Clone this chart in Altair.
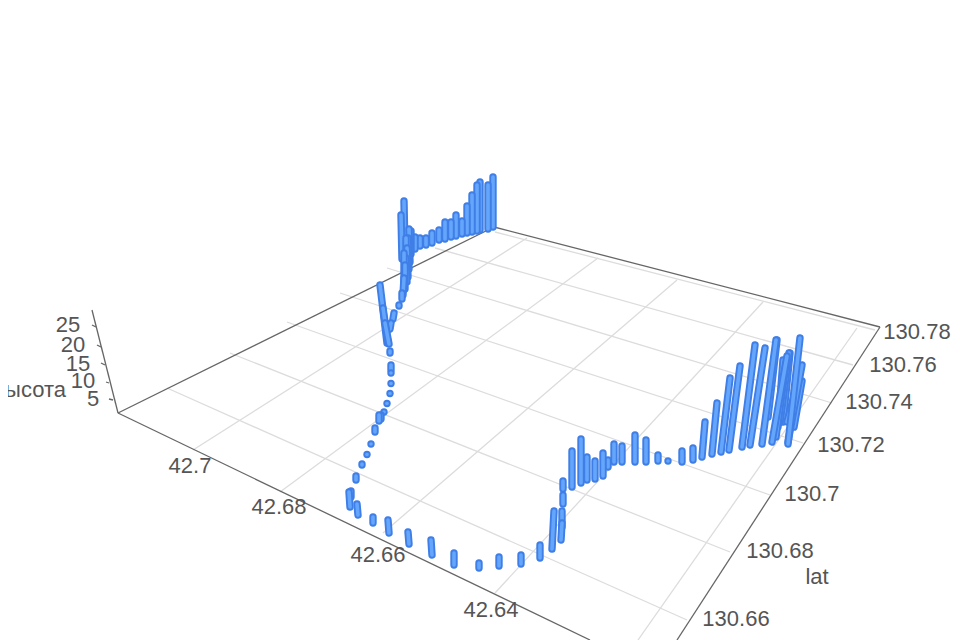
import altair as alt
import pandas as pd

bar_base_x = [493,488,480,477,472,467,462,456,451,445,439,432,426,420,415,411,405,402,
              410,409,408,407,405,403,402,399,393,390,387,388,389,390,391,391,391,390,387,384,379,381,
              375,371,367,362,356,351,350,358,373,389,409,432,454,479,499,521,540,552,561,562,563,563,
              572,581,587,595,603,608,614,622,635,646,658,668,682,693,702,712,721,729,742,750,762,772,
              788,788,783,787,768,778,780,794,776,404,406]
bar_base_y = [230,232,233,234,235,236,237,239,240,242,243,246,248,249,252,257,260,262,
              265,272,280,285,292,298,302,309,322,332,346,346,347,356,373,376,384,394,405,414,424,422,
              435,446,457,468,483,500,510,518,526,536,547,558,568,571,569,567,561,552,543,530,507,492,
              490,486,483,482,479,470,465,465,465,465,464,464,465,463,460,457,455,453,450,448,447,445,
              447,445,425,425,420,430,425,430,440,285,275]
bar_top_x = [493,488,480,477,472,467,462,456,451,445,439,432,426,420,415,411,404,401,
             409,408,407,406,405,404,402,399,394,391,380,383,385,390,391,391,391,390,387,384,379,381,
             375,371,367,362,356,351,349,357,373,388,408,431,454,479,499,521,540,554,562,562,563,563,
             572,581,587,595,603,608,614,622,635,646,658,668,682,693,705,717,730,740,755,765,776,787,
             800,802,790,798,777,783,789,802,786,404,406]
bar_top_y = [174,182,179,182,192,203,218,212,219,219,227,230,235,235,234,228,198,212,
             226,235,245,255,262,275,290,302,310,320,282,305,320,348,362,370,383,393,402,410,412,412,
             425,442,452,461,473,488,489,501,514,517,529,537,550,560,554,552,542,508,520,508,492,478,
             448,436,454,458,450,457,441,443,432,437,452,458,448,445,419,400,375,363,342,345,337,353,
             335,362,350,378,337,357,350,378,360,250,235]

lat_labels = ["130.66","130.68","130.7","130.72","130.74","130.76","130.78"]
lat_left_x = [167,230,287,340,387,435,495]
lat_left_y = [388,353,322,293,268,248,232]
lat_right_x = [687,730,770,803,832,853,875]
lat_right_y = [620,552,495,443,403,365,330]
lat_label_x = [736,780,812,851,879,903,917]
lat_label_y = [619,551,494,445,402,365,332]

lon_labels = ["42.7","42.68","42.66","42.64"]
lon_front_x = [193,280,383,495,638]
lon_front_y = [450,492,533,593,640]
lon_back_x = [527,598,677,763,857]
lon_back_y = [238,258,280,302,328]
lon_label_x = [190,279,378,491]
lon_label_y = [466,507,555,610]

z_labels = ["5","10","15","20","25"]
z_label_x = [93,83,78,73,68]
z_label_y = [399,381,364,345,325]
z_tick_x1 = [109,106,101,97,92]
z_tick_y1 = [399,382,363,345,325]
z_tick_x2 = [113,109,105,101,96]
z_tick_y2 = [400,383,365,347,327]

edge_x = [92,118,494,880,677]
edge_y = [310,413,227,327,640]
front_x = [118,590]
front_y = [413,640]

name_text = ["lat","высота"]
name_x = [817,66]
name_y = [577,390]

X = alt.Scale(domain=[8,952], nice=False, zero=False)
Y = alt.Scale(domain=[640,8], nice=False, zero=False)
FONT = "Liberation Sans"
SIZE = 22

def segs(x1,y1,x2,y2):
    return pd.DataFrame({"x":x1,"y":y1,"x2":x2,"y2":y2})

def rule(df, color, width):
    return alt.Chart(df).mark_rule(color=color, strokeWidth=width).encode(
        x=alt.X("x:Q",scale=X,axis=None), y=alt.Y("y:Q",scale=Y,axis=None),
        x2="x2:Q", y2="y2:Q")

def text(df):
    return alt.Chart(df).mark_text(font=FONT,fontSize=SIZE,color="#555555").encode(
        x=alt.X("x:Q",scale=X,axis=None), y=alt.Y("y:Q",scale=Y,axis=None), text="t:N")

grid = rule(pd.concat([segs(lat_left_x,lat_left_y,lat_right_x,lat_right_y),
                       segs(lon_front_x,lon_front_y,lon_back_x,lon_back_y)]),"#dcdcdc",1.3)
edges = rule(pd.concat([
    segs(edge_x[:-1],edge_y[:-1],edge_x[1:],edge_y[1:]),
    segs(front_x[:1],front_y[:1],front_x[1:],front_y[1:]),
    segs(z_tick_x1,z_tick_y1,z_tick_x2,z_tick_y2)]),"#666666",1.3)

labels = text(pd.concat([
    pd.DataFrame({"x":lat_label_x,"y":lat_label_y,"t":lat_labels}),
    pd.DataFrame({"x":lon_label_x,"y":lon_label_y,"t":lon_labels}),
    pd.DataFrame({"x":z_label_x,"y":z_label_y,"t":z_labels}),
    pd.DataFrame({"x":name_x[:1],"y":name_y[:1],"t":name_text[:1]})]))
zname = alt.Chart(pd.DataFrame({"x":name_x[1:],"y":name_y[1:],"t":name_text[1:]})).mark_text(
    font=FONT,fontSize=SIZE,color="#555555",align="right").encode(
    x=alt.X("x:Q",scale=X,axis=None), y=alt.Y("y:Q",scale=Y,axis=None), text="t:N")

bars = segs(bar_base_x,bar_base_y,bar_top_x,bar_top_y)
# the round caps add half a stroke at each end, so pull the ends in
h = bars["y"]-bars["y2"]
inset = (h/2).clip(upper=3.0)
bars["y"] = bars["y"]-inset
bars["y2"] = bars["y2"]+inset
bars = bars.sort_values("y",kind="stable")
rows = []
for _,r in bars.iterrows():
    rows.append({**r,"part":"edge"})
    rows.append({**r,"part":"face"})
bar_table = pd.DataFrame(rows)
bar_layer = alt.Chart(bar_table).mark_rule(strokeCap="round").encode(
    x=alt.X("x:Q",scale=X,axis=None), y=alt.Y("y:Q",scale=Y,axis=None),
    x2="x2:Q", y2="y2:Q",
    color=alt.Color("part:N",scale=alt.Scale(domain=["edge","face"],range=["#3f7ee6","#64a6fb"]),legend=None),
    strokeWidth=alt.StrokeWidth("part:N",scale=alt.Scale(domain=["edge","face"],range=[7.4,3.6]),legend=None))

chart = alt.layer(grid,edges,bar_layer,labels,zname).properties(
    width=944,height=632,padding=0,autosize=alt.AutoSizeParams(type="none"),background="#ffffff"
).configure_view(stroke=None)

chart.save("out.html", embed_options={"renderer": "svg", "actions": False})
